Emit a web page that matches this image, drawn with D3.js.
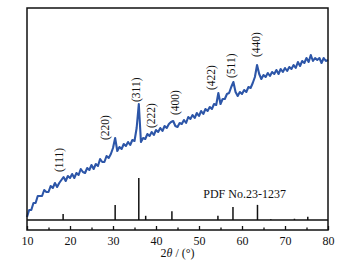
<!DOCTYPE html>
<html>
<head>
<meta charset="utf-8">
<script src="https://cdn.jsdelivr.net/npm/d3@7"></script>
<style>
  body { margin: 0; background: #fff; }
  text { font-family: "Liberation Serif", "Times New Roman", serif; fill: #111; }
</style>
</head>
<body>
<div id="chart"></div>
<script>
// XRD pattern, 2theta from 10 to 80 deg, one reading every 0.5 deg
const twoThetaStart = 10, twoThetaStep = 0.5;
const intensity = [
    3, 10, 10, 17, 17, 24, 24, 24, 30, 28,
    28, 34, 32, 37, 33, 37, 40, 43, 39, 44,
    42, 46, 42, 47, 45, 51, 48, 47, 52, 50,
    55, 51, 56, 54, 61, 58, 58, 64, 62, 66,
    72, 82, 69, 73, 71, 76, 74, 78, 75, 80,
    79, 92, 116, 78, 82, 81, 86, 84, 88, 85,
    90, 88, 92, 89, 94, 92, 96, 98, 99, 94,
    93, 97, 96, 100, 97, 103, 101, 105, 102, 107,
    104, 109, 106, 111, 109, 113, 111, 116, 115, 127,
    116, 121, 121, 126, 127, 133, 138, 128, 124, 128,
    126, 130, 128, 133, 132, 137, 143, 155, 146, 141,
    145, 143, 147, 144, 148, 146, 150, 146, 151, 148,
    152, 149, 153, 151, 155, 152, 158, 154, 159, 157,
    162, 158, 165, 159, 162, 160, 162, 157, 162, 159,
    160
];

// reference pattern PDF No.23-1237 (relative intensity)
const pdfAngles = [18.4, 30.5, 36.0, 37.6, 43.7, 54.4, 57.9, 63.6, 66.7, 72.2, 75.3];
const pdfIntensity = [14, 36, 100, 10, 21, 10, 31, 36, 2, 3, 8];

// hkl labels: position (2theta) and the intensity where the label starts
const hklLabels = ["(111)", "(220)", "(311)", "(222)", "(400)", "(422)", "(511)", "(440)"];
const hklAngles = [17.4, 28.1, 35.3, 38.8, 44.4, 52.8, 57.4, 63.3];
const hklLevels = [48, 80, 118, 92, 105, 130, 142, 163];

const majorTicks = [10, 20, 30, 40, 50, 60, 70, 80];
const minorTicks = [15, 25, 35, 45, 55, 65, 75];

const width = 358, height = 266;
const margin = { top: 8, right: 30, bottom: 36, left: 27 };
const baseY = 220; // baseline of the stick pattern

const svg = d3.select("#chart")
    .append("svg")
    .attr("width", width)
    .attr("height", height);

const x = d3.scaleLinear()
    .domain([10, 80])
    .range([margin.left, width - margin.right]);

const y = d3.scaleLinear()
    .domain([0, 212])
    .range([baseY, margin.top]);

const yPdf = d3.scaleLinear()
    .domain([0, 100])
    .range([baseY, 178]);

const data = intensity.map((v, i) => ({ t: twoThetaStart + i * twoThetaStep, v: v }));

// courbe
svg.append("path")
    .datum(data)
    .attr("fill", "none")
    .attr("stroke", "#2d56a8")
    .attr("stroke-width", 2.1)
    .attr("stroke-linejoin", "round")
    .attr("d", d3.line().x(d => x(d.t)).y(d => y(d.v)));

// sticks
svg.append("g")
    .selectAll("line")
    .data(pdfAngles)
    .join("line")
    .attr("x1", d => x(d))
    .attr("x2", d => x(d))
    .attr("y1", baseY)
    .attr("y2", (d, i) => yPdf(pdfIntensity[i]))
    .attr("stroke", "#111")
    .attr("stroke-width", 1.5);

svg.append("line")
    .attr("x1", x(10)).attr("x2", x(80))
    .attr("y1", baseY).attr("y2", baseY)
    .attr("stroke", "#111")
    .attr("stroke-width", 1.5);

svg.append("text")
    .attr("x", x(60.6))
    .attr("y", 198)
    .attr("text-anchor", "middle")
    .style("font-size", "12px")
    .text("PDF No.23-1237");

// hkl labels
svg.append("g")
    .selectAll("text")
    .data(hklLabels)
    .join("text")
    .attr("transform", (d, i) => `translate(${x(hklAngles[i])},${y(hklLevels[i])}) rotate(-90)`)
    .attr("dy", "0.35em")
    .style("font-size", "11.5px")
    .text(d => d);

// axe x
const bottomY = height - margin.bottom;

svg.append("g")
    .attr("transform", `translate(0,${bottomY})`)
    .call(d3.axisBottom(x)
        .tickValues(majorTicks)
        .tickSizeInner(-4)
        .tickSizeOuter(0)
        .tickPadding(6))
    .call(g => g.select(".domain").remove())
    .call(g => g.selectAll(".tick line").attr("stroke", "#111").attr("stroke-width", 1.3))
    .call(g => g.selectAll(".tick text")
        .style("font-family", "Liberation Serif, serif")
        .style("font-size", "12px")
        .attr("fill", "#111"));

svg.append("g")
    .attr("transform", `translate(0,${bottomY})`)
    .call(d3.axisBottom(x)
        .tickValues(minorTicks)
        .tickSizeInner(-2.5)
        .tickSizeOuter(0)
        .tickFormat(""))
    .call(g => g.select(".domain").remove())
    .call(g => g.selectAll(".tick line").attr("stroke", "#111").attr("stroke-width", 1.3));

// cadre
svg.append("rect")
    .attr("x", x(10))
    .attr("y", margin.top)
    .attr("width", x(80) - x(10))
    .attr("height", bottomY - margin.top)
    .attr("fill", "none")
    .attr("stroke", "#111")
    .attr("stroke-width", 1.5);

const title = svg.append("text")
    .attr("x", (x(10) + x(80)) / 2)
    .attr("y", 257)
    .attr("text-anchor", "middle")
    .style("font-size", "12px");
title.append("tspan").text("2");
title.append("tspan").style("font-style", "italic").text("θ");
title.append("tspan").text(" / (°)");
</script>
</body>
</html>
